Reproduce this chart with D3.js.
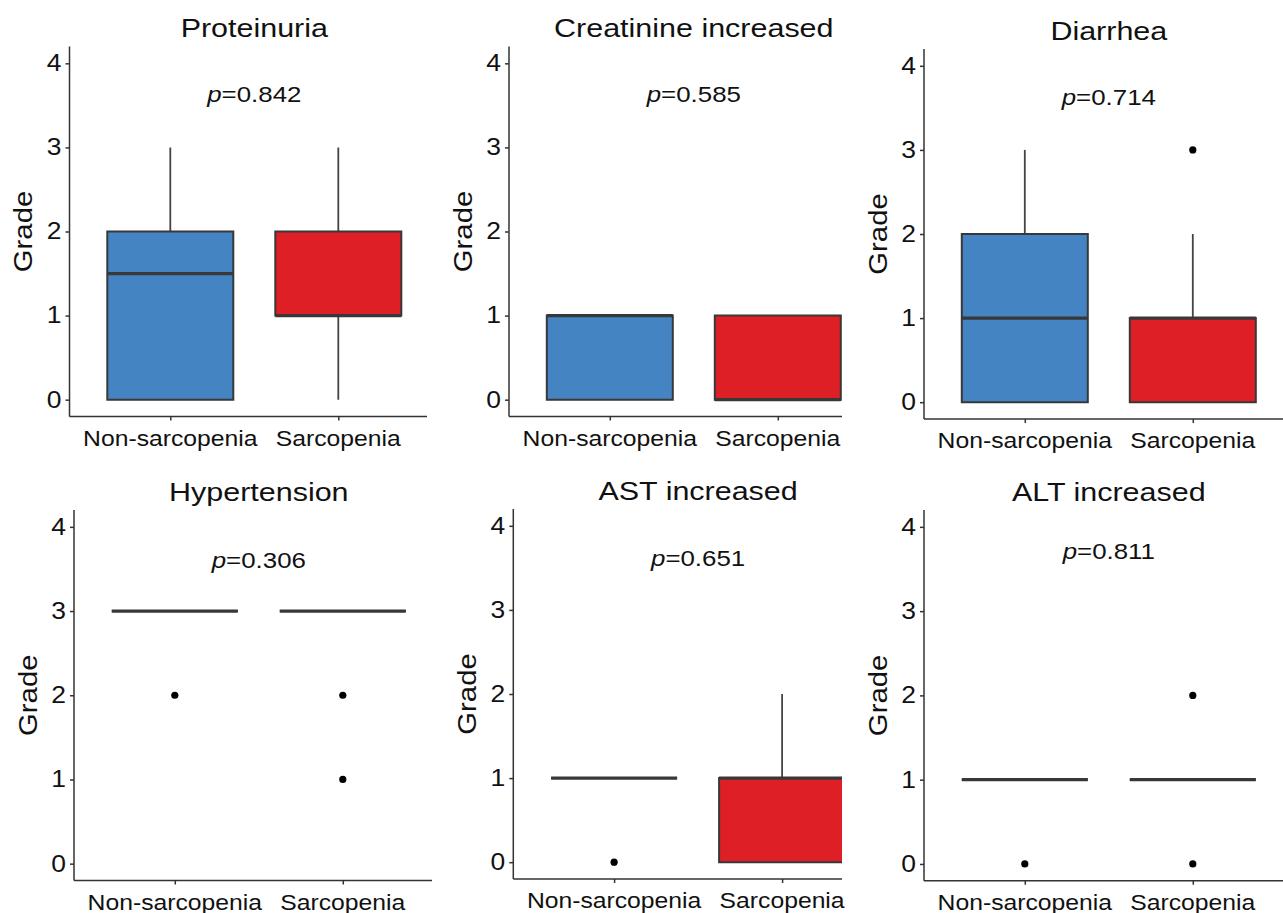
<!DOCTYPE html>
<html>
<head>
<meta charset="utf-8">
<script src="https://cdn.jsdelivr.net/npm/d3@7"></script>
<style>
  body { margin: 0; background: #fff; }
  svg { display: block; font-family: "Liberation Sans", Arial, sans-serif; }
</style>
</head>
<body>
<div id="chart"></div>
<script>
// data
const panelTitles = ["Proteinuria", "Creatinine increased", "Diarrhea", "Hypertension", "AST increased", "ALT increased"]
const groups = ["Non-sarcopenia", "Sarcopenia"]
const pValues = ["0.842", "0.585", "0.714", "0.306", "0.651", "0.811"]
const pLabelY = [3.64, 3.64, 3.63, 3.61, 3.62, 3.72]
// [min, q1, median, q3, max]
const nonSarcStats = [[0, 0, 1.5, 2, 3], [0, 0, 1, 1, 1], [0, 0, 1, 2, 3], [3, 3, 3, 3, 3], [1, 1, 1, 1, 1], [1, 1, 1, 1, 1]]
const sarcStats = [[0, 1, 1, 2, 3], [0, 0, 0, 1, 1], [0, 0, 1, 1, 2], [3, 3, 3, 3, 3], [0, 0, 1, 1, 2], [1, 1, 1, 1, 1]]
const nonSarcOutliers = [[], [], [], [2], [0], [0]]
const sarcOutliers = [[], [], [3], [2, 1], [], [2, 0]]
const yTicks = [0, 1, 2, 3, 4]
const groupColors = ["#4584C3", "#DE1F26"]

// panel placement (the source figure is a cropped composite)
const layout = [
  { x0: 69.5, top: 46.5, bottom: 416.5, right: 427 },
  { x0: 509, top: 46.5, bottom: 416.5, right: 842 },
  { x0: 924, top: 49, bottom: 419, right: 1283 },
  { x0: 74, top: 510, bottom: 880.5, right: 432 },
  { x0: 513.3, top: 509, bottom: 879, right: 842 },
  { x0: 924, top: 510, bottom: 880.8, right: 1283 },
]
const plotW = 369.6
const sx = 1.15   // glyphs in the source are wider than Arial
const ink = "#333"

const width = 1283
const height = 913

const svg = d3.select("#chart")
  .append("svg")
  .attr("width", width)
  .attr("height", height)

function stretchedText(g, x, y, str, size, anchor, rot) {
  return g.append("text")
    .attr("transform", `translate(${x},${y}) rotate(${rot || 0}) scale(${sx},1)`)
    .attr("text-anchor", anchor)
    .attr("font-size", size)
    .attr("fill", "#111")
    .text(str)
}

panelTitles.forEach((title, i) => {
  const L = layout[i]
  const g = svg.append("g")

  const x = d3.scalePoint().domain(groups).range([L.x0, L.x0 + plotW]).padding(0.6)
  const y = d3.scaleLinear().domain([-0.2, 4.2]).range([L.bottom, L.top])
  const boxW = x.step() * 0.75

  svg.append("clipPath").attr("id", "clip" + i)
    .append("rect")
    .attr("x", L.x0 - 2).attr("y", L.top - 2)
    .attr("width", L.right - L.x0 + 2).attr("height", L.bottom - L.top + 20)

  const plot = g.append("g").attr("clip-path", `url(#clip${i})`)

  const stats = [nonSarcStats[i], sarcStats[i]]
  const outl = [nonSarcOutliers[i], sarcOutliers[i]]

  groups.forEach((grp, j) => {
    const [mn, q1, med, q3, mx] = stats[j]
    const cx = x(grp)

    // whiskers
    if (mx > q3) {
      plot.append("line").attr("x1", cx).attr("x2", cx)
        .attr("y1", y(q3)).attr("y2", y(mx))
        .attr("stroke", "#444").attr("stroke-width", 1.8)
    }
    if (mn < q1) {
      plot.append("line").attr("x1", cx).attr("x2", cx)
        .attr("y1", y(q1)).attr("y2", y(mn))
        .attr("stroke", "#444").attr("stroke-width", 1.8)
    }

    // box (path so a zero-height box still draws)
    const p = d3.path()
    p.rect(cx - boxW / 2, y(q3), boxW, y(q1) - y(q3))
    plot.append("path")
      .attr("d", p.toString())
      .attr("fill", groupColors[j])
      .attr("stroke", "#383838")
      .attr("stroke-width", 2)

    // median
    plot.append("line")
      .attr("x1", cx - boxW / 2).attr("x2", cx + boxW / 2)
      .attr("y1", y(med)).attr("y2", y(med))
      .attr("stroke", "#383838").attr("stroke-width", 3.2)

    plot.selectAll(null)
      .data(outl[j])
      .enter()
      .append("circle")
      .attr("cx", cx)
      .attr("cy", d => y(d))
      .attr("r", 3.6)
      .attr("fill", "#000")
  })

  // axes
  const yAxis = g.append("g")
    .attr("transform", `translate(${L.x0},0)`)
    .call(d3.axisLeft(y).tickValues(yTicks).tickSize(4).tickFormat(""))
  yAxis.select(".domain").attr("d", `M0,${L.top}V${L.bottom}`)
  yAxis.selectAll("line, path").attr("stroke", ink).attr("stroke-width", 1.5)

  const xAxis = plot.append("g")
    .attr("transform", `translate(0,${L.bottom})`)
    .call(d3.axisBottom(x).tickSize(4).tickFormat(""))
  xAxis.select(".domain").attr("d", `M${L.x0},0H${L.x0 + plotW}`)
  xAxis.selectAll("line, path").attr("stroke", ink).attr("stroke-width", 1.5)

  yTicks.forEach(t => {
    stretchedText(g, L.x0 - 8, y(t), t, 23, "end").attr("dominant-baseline", "central")
  })
  groups.forEach(grp => {
    stretchedText(g, x(grp), L.bottom + 29, grp, 21.5, "middle")
  })

  const midX = L.x0 + plotW / 2
  stretchedText(g, L.x0 - 46, (L.top + L.bottom) / 2, "Grade", 25.5, "middle", -90)
    .attr("dominant-baseline", "central")

  stretchedText(g, midX, L.top - 9.5, title, 26.5, "middle")

  const pt = stretchedText(g, midX, y(pLabelY[i]), "", 22.5, "middle")
    .attr("dominant-baseline", "central")
  pt.append("tspan").attr("font-style", "italic").text("p")
  pt.append("tspan").text("=" + pValues[i])
})
</script>
</body>
</html>
